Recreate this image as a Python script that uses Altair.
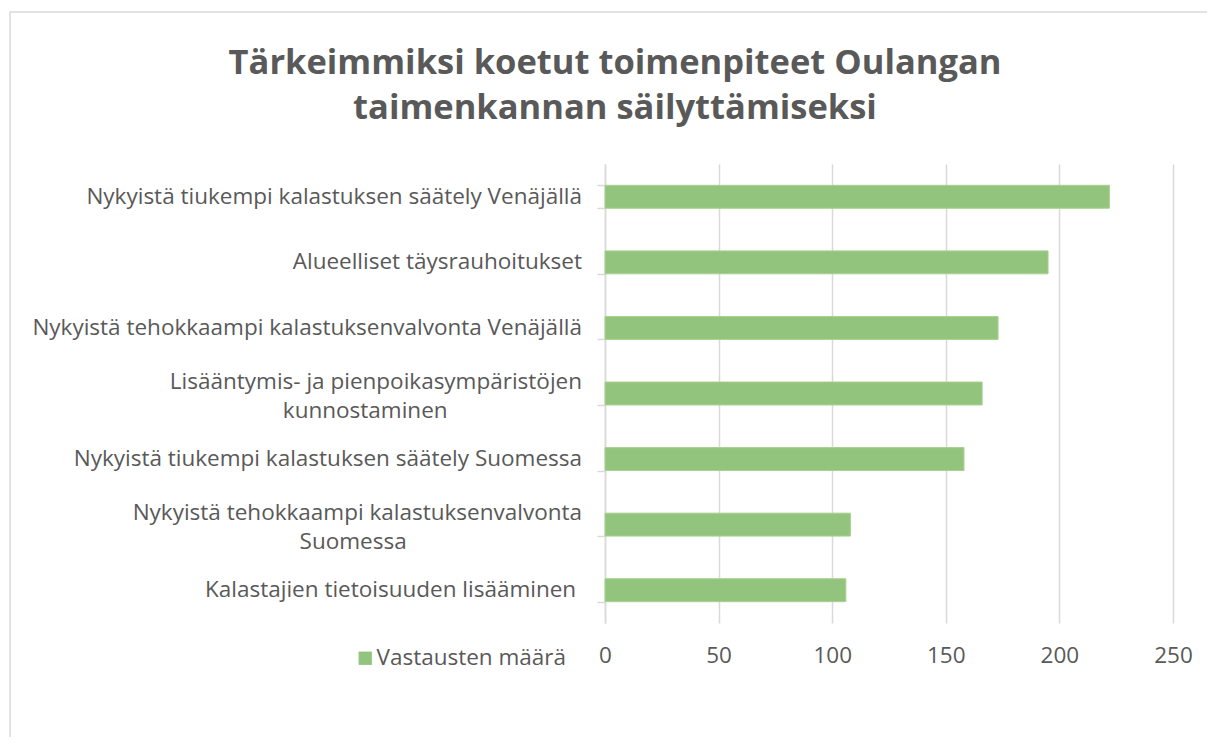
import altair as alt
import pandas as pd

categories = [
    "Nykyistä tiukempi kalastuksen säätely Venäjällä",
    "Alueelliset täysrauhoitukset",
    "Nykyistä tehokkaampi kalastuksenvalvonta Venäjällä",
    "Lisääntymis- ja pienpoikasympäristöjen|kunnostaminen",
    "Nykyistä tiukempi kalastuksen säätely Suomessa",
    "Nykyistä tehokkaampi kalastuksenvalvonta|Suomessa",
    "Kalastajien tietoisuuden lisääminen\u00a0\u200b",
]
values = [222, 195, 173, 166, 158, 108, 106]
series_name = "Vastausten määrä"
x_ticks = [0, 50, 100, 150, 200, 250]
title_lines = ["Tärkeimmiksi koetut toimenpiteet Oulangan", "taimenkannan säilyttämiseksi"]


def centre_lines(label):
    # Excel centres wrapped lines on each other; pad the short line with NBSPs
    # (ended by a zero-width space so the padding is not trimmed away)
    if "|" not in label:
        return label
    a, b = label.split("|")
    n = round((len(a) - len(b)) / 2 * 1.85)
    return a + "|" + b + "\u00a0" * n + "\u200b"


display = [centre_lines(c) for c in categories]

df = pd.DataFrame({"kategoria": display, "arvo": values, "sarja": series_name})

TEXT = "#595959"
GRID = "#d9d9d9"
GREEN = "#93C47D"
FONT = "Open Sans"
LBL = 22.5

y_enc = alt.Y(
    "kategoria:N",
    sort=display,
    scale=alt.Scale(paddingInner=0.65, paddingOuter=0.325),
    axis=alt.Axis(
        title=None, labels=False, domainColor=GRID, domainWidth=1.5,
        tickColor=GRID, tickWidth=1.5, tickSize=8, tickBand="extent",
    ),
)

bars = alt.Chart(df).mark_bar(color=GREEN, stroke="#a9d18e", strokeWidth=1).encode(
    x=alt.X(
        "arvo:Q",
        scale=alt.Scale(domain=[0, 250], nice=False),
        axis=alt.Axis(
            values=x_ticks, title=None, domain=False, ticks=False,
            grid=True, gridColor=GRID, gridWidth=1.5, labelFlush=False,
            labelPadding=21, labelFontSize=LBL, labelColor=TEXT, labelFont=FONT,
        ),
    ),
    y=y_enc,
    color=alt.Color(
        "sarja:N",
        scale=alt.Scale(range=[GREEN]),
        legend=alt.Legend(
            title=None, orient="none", legendX=-251, legendY=483, padding=0,
            symbolType="square", symbolSize=177, symbolStrokeWidth=0,
            labelFontSize=LBL, labelColor=TEXT, labelFont=FONT, labelOffset=0,
            labelLimit=0,
        ),
    ),
)

single_labels = alt.Chart(df).transform_filter(
    "indexof(datum.kategoria, '|') < 0"
).mark_text(
    align="right", baseline="middle", fontSize=LBL, font=FONT, color=TEXT
).encode(
    y=alt.Y("kategoria:N", sort=display),
    x=alt.value(-23),
    text="kategoria:N",
)

multi_labels = alt.Chart(df).transform_filter(
    "indexof(datum.kategoria, '|') >= 0"
).mark_text(
    align="right", baseline="middle", fontSize=LBL, font=FONT, color=TEXT,
    lineBreak="|", lineHeight=29, dy=-12,
).encode(
    y=alt.Y("kategoria:N", sort=display),
    x=alt.value(-23),
    text="kategoria:N",
)

border = alt.Chart(alt.Data(values=[{"a": 1}])).mark_rect(
    filled=False, stroke=GRID, strokeWidth=1.5
).encode(
    x=alt.value(-595), x2=alt.value(800), y=alt.value(-152), y2=alt.value(800)
)

chart = alt.layer(border, bars, single_labels, multi_labels).properties(
    width=568,
    height=459,
    autosize=alt.AutoSizeParams(type="none"),
    padding={"left": 597, "top": 156, "right": 34, "bottom": 114},
    title=alt.TitleParams(
        text=title_lines, anchor="middle", frame="group", dx=-274, dy=151,
        fontSize=34.5, font=FONT, fontWeight="bold", color=TEXT,
        lineHeight=45, offset=36,
    ),
).configure_view(stroke=None)

chart.save("out.html", embed_options={"renderer": "svg", "actions": False})
